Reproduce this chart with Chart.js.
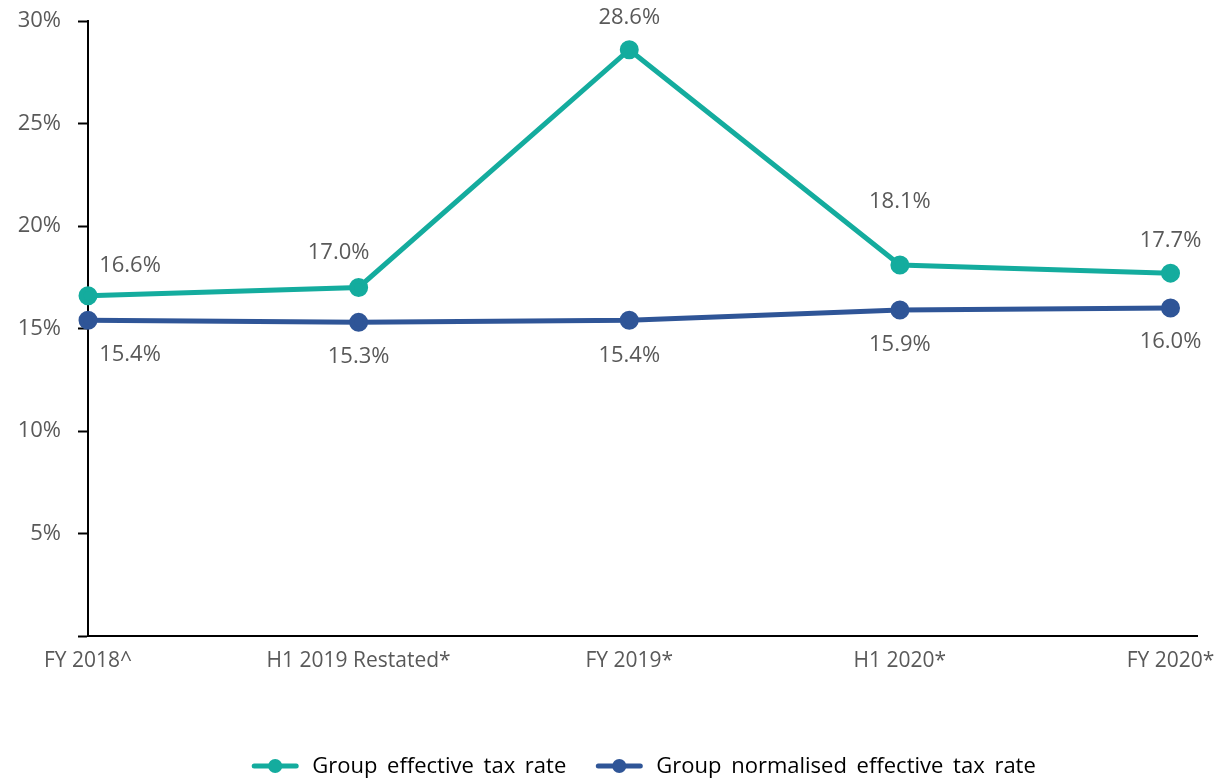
<!DOCTYPE html>
<html>
<head>
<meta charset="utf-8">
<script src="https://cdn.jsdelivr.net/npm/chart.js@4.4.0/dist/chart.umd.min.js"></script>
<style>
  html, body { margin: 0; padding: 0; background: #fff; }
  #wrap { width: 1227px; height: 779px; }
</style>
</head>
<body>
<div id="wrap"><canvas id="taxChart" width="1227" height="779"></canvas></div>
<script>
// Chart data
const categories = ["FY 2018^", "H1 2019 Restated*", "FY 2019*", "H1 2020*", "FY 2020*"];
const effectiveRate = [16.6, 17.0, 28.6, 18.1, 17.7];
const normalisedRate = [15.4, 15.3, 15.4, 15.9, 16.0];
const yTicks = [0, 5, 10, 15, 20, 25, 30];

const GREEN = "#14AC9E";
const BLUE = "#2F5597";
const TEXT = "#595959";
const FONT = "'Open Sans', sans-serif";

// label offsets (px) from each point, like the hand-placed labels in the original
const greenOffsets = [[42, -30], [-20, -35], [0, -32], [0, -63], [0, -32]];
const blueOffsets = [[42, 34], [0, 34], [0, 35], [0, 35], [0, 34]];

// Draw the value labels next to the points
const valueLabels = {
    id: "valueLabels",
    afterDatasetsDraw(chart) {
        const ctx = chart.ctx;
        ctx.save();
        ctx.font = "22px " + FONT;
        ctx.fillStyle = TEXT;
        ctx.textAlign = "center";
        ctx.textBaseline = "middle";
        chart.data.datasets.forEach((ds, i) => {
            const meta = chart.getDatasetMeta(i);
            const offs = i === 0 ? greenOffsets : blueOffsets;
            meta.data.forEach((pt, j) => {
                const v = ds.data[j].y;
                ctx.fillText(v.toFixed(1) + "%", pt.x + offs[j][0], pt.y + offs[j][1]);
            });
        });
        ctx.restore();
    },
};

// Bottom legend: short line with a dot, then the series name
const lineLegend = {
    id: "lineLegend",
    afterDraw(chart) {
        const ctx = chart.ctx;
        const markerW = 46, gapText = 14, gapItem = 30;
        const centerX = 644, y = 766;
        ctx.save();
        ctx.font = "22px " + FONT;
        ctx.wordSpacing = "4px";
        ctx.textBaseline = "middle";
        ctx.textAlign = "left";
        const items = chart.data.datasets.map((ds) => ({
            text: ds.label,
            color: ds.borderColor,
            w: markerW + gapText + ctx.measureText(ds.label).width,
        }));
        const total = items.reduce((s, it) => s + it.w, 0) + gapItem * (items.length - 1);
        let x = centerX - total / 2;
        items.forEach((it) => {
            ctx.strokeStyle = it.color;
            ctx.fillStyle = it.color;
            ctx.lineWidth = 5;
            ctx.lineCap = "round";
            ctx.beginPath();
            ctx.moveTo(x + 2, y);
            ctx.lineTo(x + markerW - 2, y);
            ctx.stroke();
            ctx.beginPath();
            ctx.arc(x + markerW / 2, y, 7, 0, Math.PI * 2);
            ctx.fill();
            ctx.fillStyle = "#000";
            ctx.fillText(it.text, x + markerW + gapText, y + 1);
            x += it.w + gapItem;
        });
        ctx.restore();
    },
};

const ctx = document.getElementById("taxChart").getContext("2d");
new Chart(ctx, {
    type: "line",
    data: {
        datasets: [
            {
                label: "Group effective tax rate",
                data: effectiveRate.map((v, i) => ({ x: i, y: v })),
                borderColor: GREEN,
                backgroundColor: GREEN,
                borderWidth: 5,
                pointRadius: 7,
                pointStyle: "circle",
                tension: 0,
                clip: false,
            },
            {
                label: "Group normalised effective tax rate",
                data: normalisedRate.map((v, i) => ({ x: i, y: v })),
                borderColor: BLUE,
                backgroundColor: BLUE,
                borderWidth: 5,
                pointRadius: 7,
                pointStyle: "circle",
                tension: 0,
                clip: false,
            },
        ],
    },
    options: {
        responsive: false,
        animation: false,
        layout: { padding: { top: 21, right: 27, left: 0, bottom: 0 } },
        scales: {
            x: {
                type: "linear",
                min: 0,
                max: 4.1,
                afterBuildTicks: (scale) => {
                    scale.ticks = categories.map((c, i) => ({ value: i }));
                },
                ticks: {
                    color: TEXT,
                    font: { family: FONT, size: 21 },
                    padding: 12,
                    maxRotation: 0,
                    autoSkip: false,
                    callback: (v) => categories[v],
                },
                grid: { display: true, drawOnChartArea: false, drawTicks: false },
                border: { color: "#000", width: 2 },
                afterFit: (scale) => { scale.height = 143; },
            },
            y: {
                min: 0,
                max: 30,
                afterBuildTicks: (scale) => {
                    scale.ticks = yTicks.map((v) => ({ value: v }));
                },
                ticks: {
                    color: TEXT,
                    font: { family: FONT, size: 22 },
                    padding: 17,
                    callback: (v) => (v === 0 ? "" : v + "%"),
                },
                grid: {
                    drawOnChartArea: false,
                    drawTicks: true,
                    tickLength: 10,
                    tickColor: "#000",
                    tickWidth: 2,
                },
                border: { color: "#000", width: 2 },
                afterFit: (scale) => {
                    scale.width = 88;
                    scale.paddingTop = 0;
                    scale.paddingBottom = 0;
                },
            },
        },
        plugins: {
            legend: { display: false },
            tooltip: { enabled: false },
        },
    },
    plugins: [valueLabels, lineLegend],
});
</script>
</body>
</html>
